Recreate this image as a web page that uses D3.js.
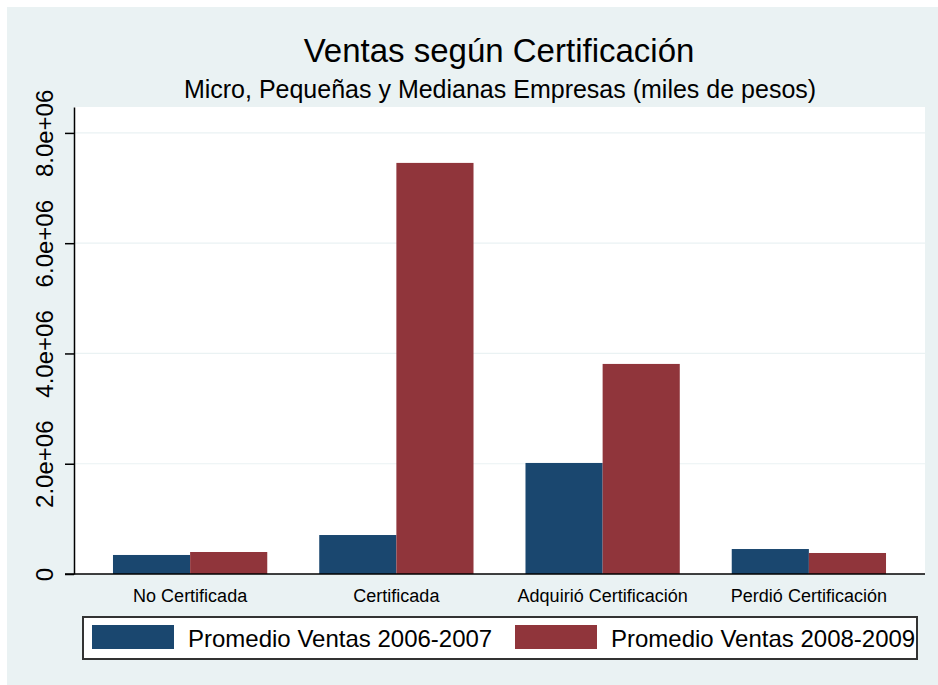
<!DOCTYPE html>
<html>
<head>
<meta charset="utf-8">
<script src="https://cdn.jsdelivr.net/npm/d3@7"></script>
<style>
  body { margin: 0; background: #ffffff; }
  text { font-family: "Liberation Sans", Arial, sans-serif; }
</style>
</head>
<body>
<div id="chart"></div>
<script>
// data
const categories = ["No Certificada", "Certificada", "Adquirió Certificación", "Perdió Certificación"];
const seriesNames = ["Promedio Ventas 2006-2007", "Promedio Ventas 2008-2009"];
const ventas0607 = [345000, 707000, 2014000, 453000];
const ventas0809 = [399000, 7456000, 3810000, 381000];
const yTickValues = [0, 2e6, 4e6, 6e6, 8e6];
const yTickLabels = ["0", "2.0e+06", "4.0e+06", "6.0e+06", "8.0e+06"];

const width = 938;
const height = 685;
const plot = { left: 74, right: 925, top: 107, bottom: 574 };
const colors = d3.scaleOrdinal().domain(seriesNames).range(["#1a476f", "#90353b"]);

const svg = d3.select("#chart").append("svg")
    .attr("width", width)
    .attr("height", height);

// outer background
svg.append("rect")
    .attr("x", 7).attr("y", 7)
    .attr("width", width - 7).attr("height", height - 7)
    .attr("fill", "#eaf2f3");

// plot region
svg.append("rect")
    .attr("x", plot.left).attr("y", plot.top)
    .attr("width", plot.right - plot.left).attr("height", plot.bottom - plot.top)
    .attr("fill", "#ffffff");

// scales
const xAxis = d3.scaleBand()
    .domain(categories)
    .range([plot.left, plot.right])
    .paddingInner(0.252)
    .paddingOuter(0.189);

const xInner = d3.scaleBand()
    .domain(seriesNames)
    .range([0, xAxis.bandwidth()]);

const yAxis = d3.scaleLinear()
    .domain([0, 8.47e6])
    .range([plot.bottom, plot.top]);

// grid lines
svg.append("g")
    .selectAll("line")
    .data(yTickValues.filter(function(d) { return d > 0; }))
    .enter().append("line")
    .attr("x1", plot.left).attr("x2", plot.right)
    .attr("y1", function(d) { return yAxis(d); })
    .attr("y2", function(d) { return yAxis(d); })
    .attr("stroke", "#eaf2f3")
    .attr("stroke-width", 1.2);

// bars
const rows = categories.map(function(c, i) {
  return { cat: c, values: [ventas0607[i], ventas0809[i]] };
});

svg.selectAll(".group")
    .data(rows)
    .enter().append("g")
    .attr("class", "group")
    .attr("transform", function(d) { return "translate(" + xAxis(d.cat) + ",0)"; })
    .selectAll("rect")
    .data(function(d) {
      return seriesNames.map(function(s, j) { return { key: s, value: d.values[j] }; });
    })
    .enter().append("rect")
    .attr("x", function(d) { return xInner(d.key); })
    .attr("y", function(d) { return yAxis(d.value); })
    .attr("width", xInner.bandwidth())
    .attr("height", function(d) { return yAxis(0) - yAxis(d.value); })
    .attr("fill", function(d) { return colors(d.key); });

// y axis
const yG = svg.append("g")
    .attr("transform", "translate(" + plot.left + ",0)")
    .call(d3.axisLeft(yAxis)
      .tickValues(yTickValues)
      .tickSize(9)
      .tickSizeOuter(0)
      .tickFormat(function(d, i) { return yTickLabels[i]; }));
yG.select(".domain").attr("stroke", "#000").attr("stroke-width", 1.5);
yG.selectAll(".tick line").attr("stroke", "#000").attr("stroke-width", 1.5);
yG.selectAll(".tick text")
    .attr("transform", "rotate(-90)")
    .attr("x", 0)
    .attr("y", -21)
    .attr("dy", 0)
    .style("text-anchor", "middle")
    .style("font-size", "24px")
    .attr("fill", "#000");

// x axis
const xG = svg.append("g")
    .attr("transform", "translate(0," + plot.bottom + ")")
    .call(d3.axisBottom(xAxis).tickSize(0).tickSizeOuter(0));
xG.select(".domain").remove();
xG.selectAll(".tick text")
    .attr("y", 28)
    .attr("dy", 0)
    .style("font-size", "18px")
    .attr("fill", "#000");

svg.append("line")
    .attr("x1", plot.left - 9).attr("x2", plot.right)
    .attr("y1", plot.bottom).attr("y2", plot.bottom)
    .attr("stroke", "#000")
    .attr("stroke-width", 1.5);

// title and subtitle
svg.append("text")
    .attr("x", 499)
    .attr("y", 62)
    .attr("text-anchor", "middle")
    .style("font-size", "33px")
    .text("Ventas según Certificación");

svg.append("text")
    .attr("x", 500)
    .attr("y", 98)
    .attr("text-anchor", "middle")
    .style("font-size", "25px")
    .text("Micro, Pequeñas y Medianas Empresas (miles de pesos)");

// legend
svg.append("rect")
    .attr("x", 83).attr("y", 617)
    .attr("width", 834).attr("height", 42)
    .attr("fill", "#ffffff")
    .attr("stroke", "#333333")
    .attr("stroke-width", 2);

const legend = svg.selectAll(".legend")
    .data(seriesNames)
    .enter().append("g")
    .attr("class", "legend")
    .attr("transform", function(d, i) { return "translate(" + (92 + i * 423) + ",625)"; });

legend.append("rect")
    .attr("width", 82)
    .attr("height", 24)
    .attr("fill", function(d) { return colors(d); });

legend.append("text")
    .attr("x", 96)
    .attr("y", 22)
    .style("font-size", "24px")
    .text(function(d) { return d; });
</script>
</body>
</html>
